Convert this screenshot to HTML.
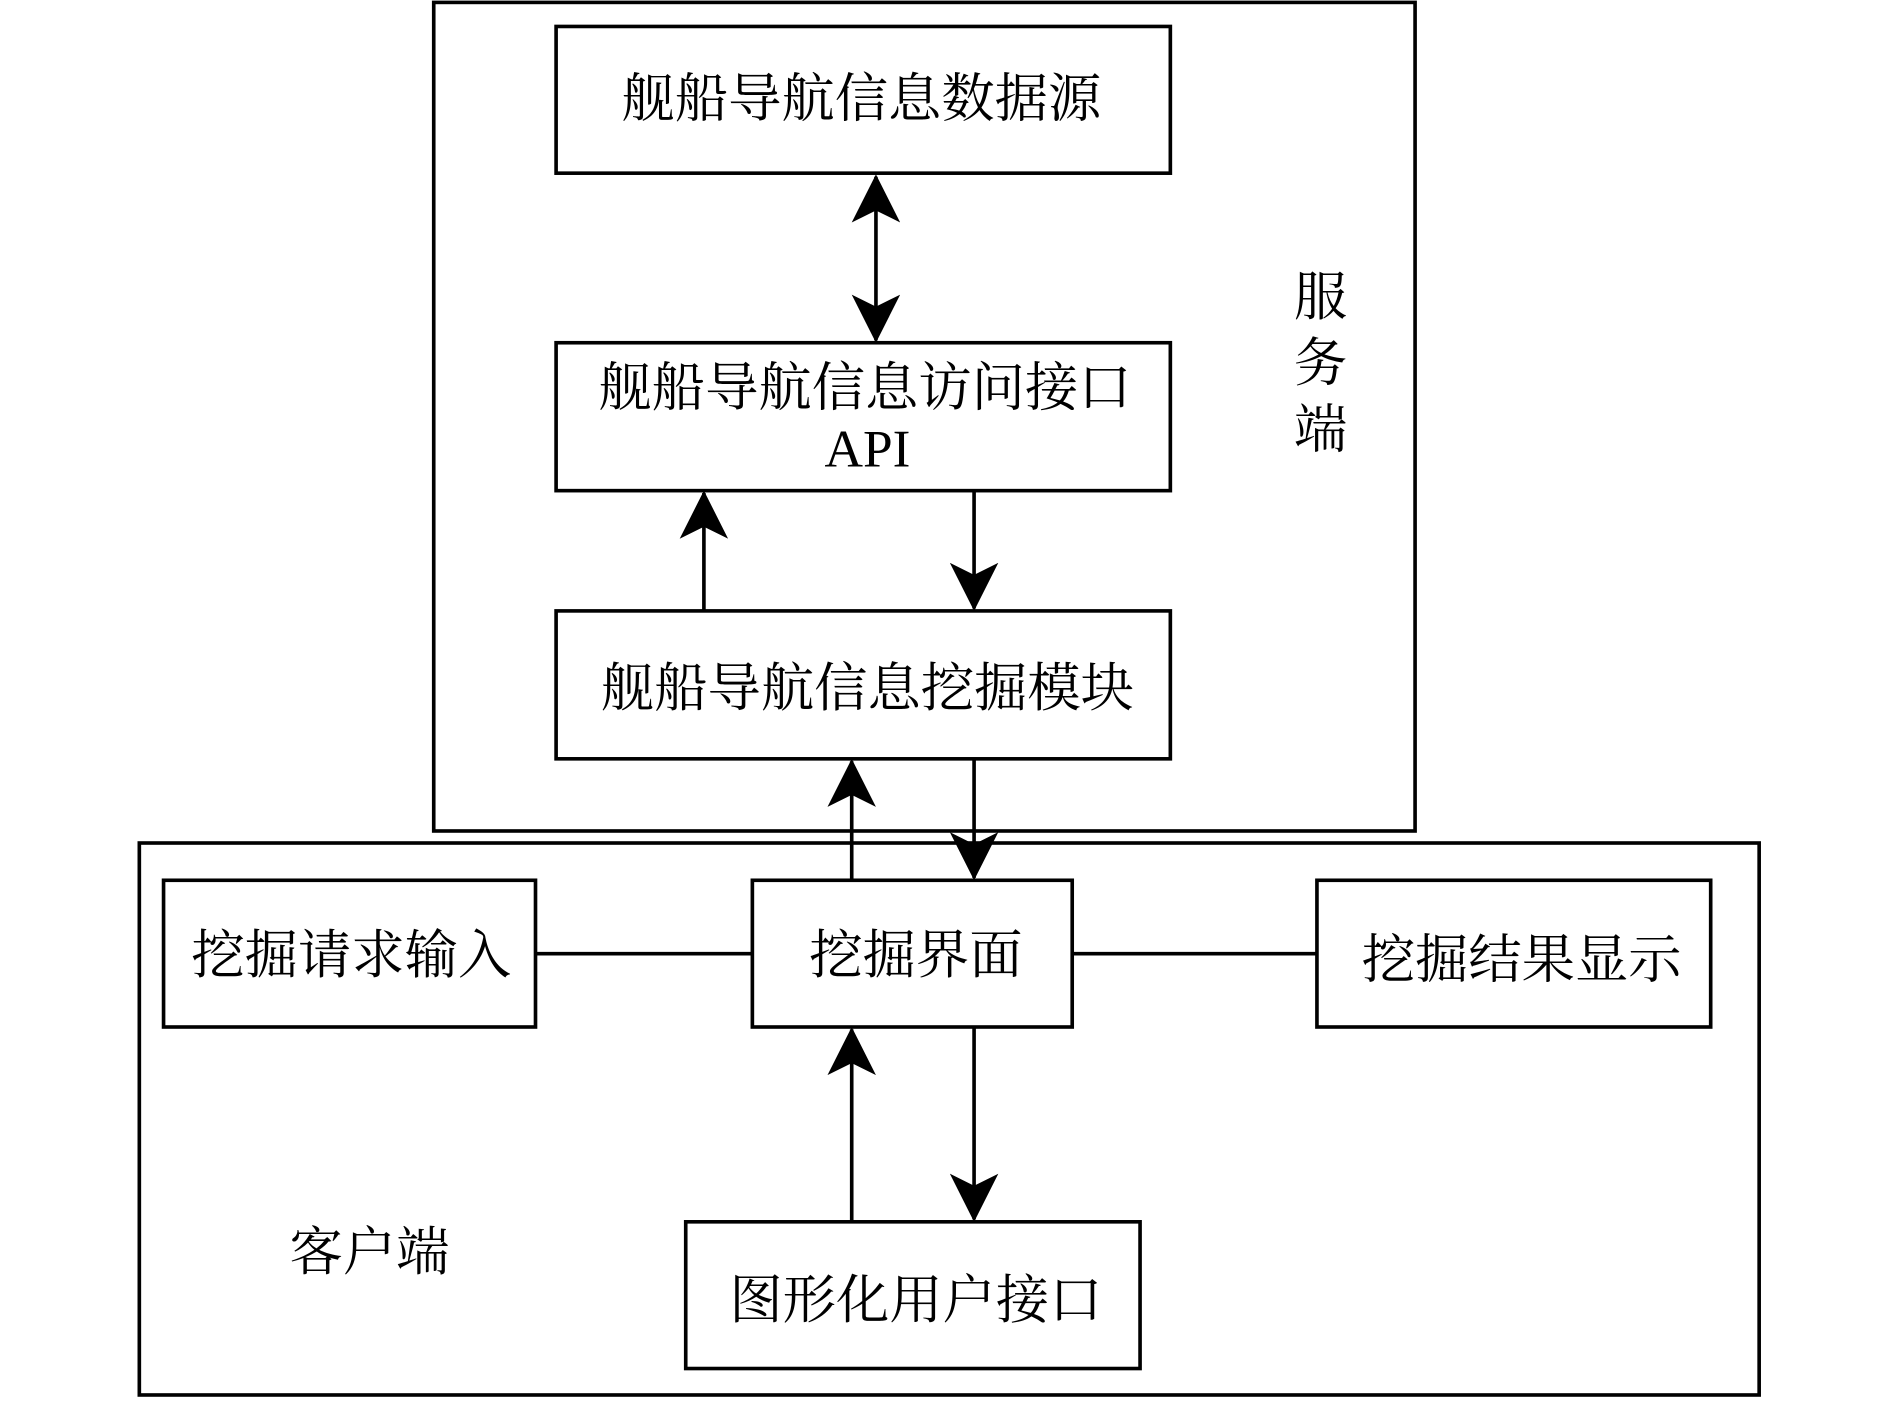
<!DOCTYPE html>
<html><head><meta charset="utf-8"><style>
html,body{margin:0;padding:0;background:#fff;}
svg{display:block;}
text{font-family:"Liberation Serif","Noto Serif CJK SC","Noto Sans CJK SC",serif;fill:#000;}
</style></head><body>
<svg width="1890" height="1401" viewBox="0 0 1560 1165" preserveAspectRatio="none" xmlns="http://www.w3.org/2000/svg">
<defs>
<marker id="a" markerWidth="40" markerHeight="40" refX="38" refY="20" orient="auto-start-reverse" markerUnits="userSpaceOnUse">
<path d="M0,0 L40,20 L0,40 L10,20 Z" fill="#000"/>
</marker>
</defs>
<g fill="none" stroke="#000" stroke-width="3">
<rect x="358" y="2" width="810" height="689"/>
<rect x="115" y="701" width="1337" height="459"/>
<rect x="459" y="22" width="507" height="122"/>
<rect x="459" y="285" width="507" height="123"/>
<rect x="459" y="508" width="507" height="123"/>
<rect x="135" y="732" width="307" height="122"/>
<rect x="621" y="732" width="264" height="122"/>
<rect x="1087" y="732" width="325" height="122"/>
<rect x="566" y="1016" width="375" height="122"/>
<line x1="442" y1="793" x2="621" y2="793"/>
<line x1="885" y1="793" x2="1087" y2="793"/>
<line x1="723" y1="147" x2="723" y2="283" marker-start="url(#a)" marker-end="url(#a)"/>
<line x1="581" y1="508" x2="581" y2="410" marker-end="url(#a)"/>
<line x1="804" y1="408" x2="804" y2="506" marker-end="url(#a)"/>
<line x1="703" y1="732" x2="703" y2="633" marker-end="url(#a)"/>
<line x1="804" y1="631" x2="804" y2="730" marker-end="url(#a)"/>
<line x1="703" y1="1016" x2="703" y2="856" marker-end="url(#a)"/>
<line x1="804" y1="854" x2="804" y2="1014" marker-end="url(#a)"/>
</g>
<g font-size="44" text-anchor="middle">
<text x="711" y="97">舰船导航信息数据源</text>
<text x="714" y="337">舰船导航信息访问接口</text>
<text x="716" y="388">API</text>
<text x="716" y="587">舰船导航信息挖掘模块</text>
<text x="290" y="809">挖掘请求输入</text>
<text x="756" y="809">挖掘界面</text>
<text x="1256" y="813">挖掘结果显示</text>
<text x="756" y="1096">图形化用户接口</text>
<text x="1090" y="262">服</text>
<text x="1090" y="317">务</text>
<text x="1090" y="372">端</text>
<text x="305" y="1056">客户端</text>
</g>
</svg>
</body></html>
